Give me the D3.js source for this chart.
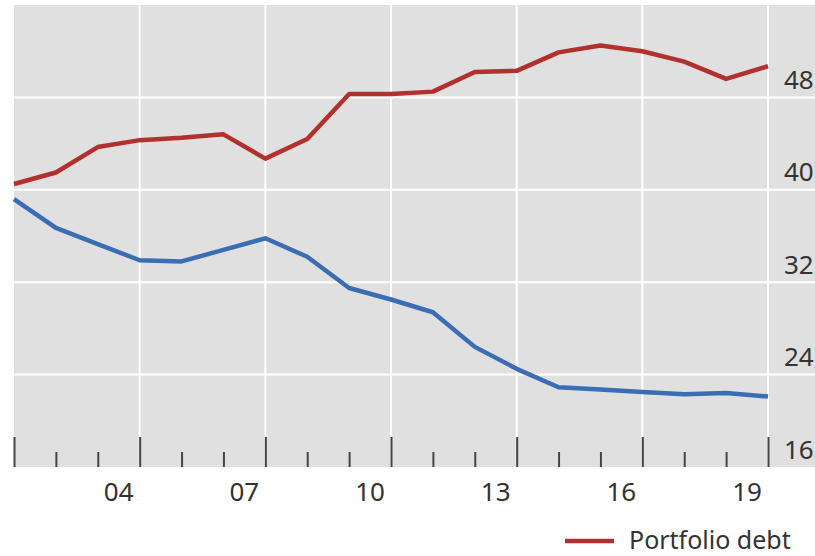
<!DOCTYPE html>
<html>
<head>
<meta charset="utf-8">
<script src="https://cdn.jsdelivr.net/npm/d3@7"></script>
<style>
  body { margin: 0; background: #fff; }
  svg text { font-family: "Noto Sans", sans-serif; fill: #333; }
</style>
</head>
<body>
<div id="chart"></div>
<script>
// year-end values, 2001..2019
const years = d3.range(2001, 2020);
const portfolioDebt = [40.5, 41.5, 43.7, 44.3, 44.5, 44.8, 42.7, 44.4, 48.3, 48.3, 48.5, 50.2, 50.3, 51.9, 52.5, 52.0, 51.1, 49.6, 50.7];
const otherSeries   = [39.2, 36.7, 35.3, 33.9, 33.8, 34.8, 35.8, 34.2, 31.5, 30.5, 29.4, 26.4, 24.5, 22.9, 22.7, 22.5, 22.3, 22.4, 22.1];
const yTicks = [16, 24, 32, 40, 48];
const majorYears = [2001, 2004, 2007, 2010, 2013, 2016, 2019];
const labelYears = [2004, 2007, 2010, 2013, 2016, 2019];

const W = 815, H = 556;
const plot = {left: 14, right: 768, top: 5, bottom: 467, bgRight: 815};

const svg = d3.select("#chart").append("svg")
    .attr("width", W)
    .attr("height", H);

const x = d3.scaleLinear().domain([2001, 2019]).range([plot.left, plot.right]);
const y = d3.scaleLinear().domain([16, 56]).range([plot.bottom, plot.top]);

// background
svg.append("rect")
    .attr("x", plot.left)
    .attr("y", plot.top)
    .attr("width", plot.bgRight - plot.left)
    .attr("height", plot.bottom - plot.top)
    .attr("fill", "#e0e0e0");

// horizontal grid
svg.append("g").selectAll("line")
    .data(yTicks.filter(d => d > 16))
    .join("line")
    .attr("x1", plot.left).attr("x2", plot.bgRight)
    .attr("y1", d => y(d)).attr("y2", d => y(d))
    .attr("stroke", "#fff").attr("stroke-width", 2);

// vertical grid
svg.append("g").selectAll("line")
    .data(majorYears.filter(d => d > 2001))
    .join("line")
    .attr("x1", d => x(d)).attr("x2", d => x(d))
    .attr("y1", plot.top).attr("y2", plot.bottom)
    .attr("stroke", "#fff").attr("stroke-width", 2);

// x axis ticks
const xAxis = d3.axisBottom(x).tickValues(years).tickFormat("").tickSizeOuter(0);
const xg = svg.append("g")
    .attr("transform", "translate(0," + plot.bottom + ")")
    .call(xAxis);
xg.select(".domain").remove();
xg.selectAll(".tick line")
    .attr("y1", 0)
    .attr("y2", d => majorYears.includes(d) ? -30 : -15)
    .attr("stroke", "#444")
    .attr("stroke-width", 2);

// x labels centred on the year
svg.append("g").selectAll("text")
    .data(labelYears)
    .join("text")
    .attr("x", d => x(d - 0.5))
    .attr("y", 501)
    .attr("text-anchor", "middle")
    .style("font-size", "26px")
    .text(d => String(d).slice(2));

// y axis on the right
const yAxis = d3.axisRight(y).tickValues(yTicks).tickSize(0).tickPadding(0);
const yg = svg.append("g")
    .attr("transform", "translate(784,0)")
    .call(yAxis);
yg.select(".domain").remove();
yg.selectAll(".tick text")
    .attr("dy", "-9px")
    .attr("x", 0)
    .style("font-size", "26px")
    .style("font-family", "'Noto Sans', sans-serif")
    .attr("fill", "#333");

// lines
const line = d3.line().x((d, i) => x(years[i])).y(d => y(d));

svg.append("path")
    .datum(otherSeries)
    .attr("d", line)
    .attr("fill", "none")
    .attr("stroke", "#3b6db5")
    .attr("stroke-width", 4.5)
    .attr("stroke-linejoin", "round");

svg.append("path")
    .datum(portfolioDebt)
    .attr("d", line)
    .attr("fill", "none")
    .attr("stroke", "#b2302e")
    .attr("stroke-width", 4.5)
    .attr("stroke-linejoin", "round");

// legend
const lg = svg.append("g").attr("transform", "translate(565,541)");
lg.append("line")
    .attr("x1", 0).attr("x2", 49)
    .attr("stroke", "#b2302e").attr("stroke-width", 4.5);
lg.append("text")
    .attr("x", 64)
    .attr("y", 8)
    .style("font-size", "25px")
    .text("Portfolio debt");
</script>
</body>
</html>
